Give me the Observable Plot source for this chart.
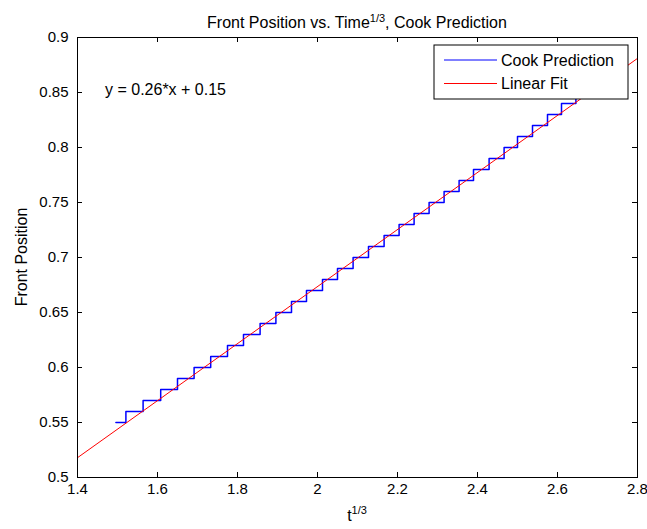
<!DOCTYPE html>
<html><head><meta charset="utf-8">
<script src="https://cdn.jsdelivr.net/npm/d3@7"></script>
<script src="https://cdn.jsdelivr.net/npm/@observablehq/plot@0.6"></script>
<style>body{margin:0;background:#fff} svg{display:block}</style>
</head><body><div id="chart"></div>
<script>
// Cook Prediction staircase: x where each level begins
const stepX = [1.496, 1.521, 1.564, 1.608, 1.650, 1.6915, 1.733, 1.775, 1.815, 1.8565, 1.896,
               1.935, 1.9725, 2.0125, 2.050, 2.089, 2.1275, 2.1665, 2.204, 2.2415, 2.279,
               2.3165, 2.354, 2.390, 2.429, 2.4665, 2.500, 2.5375, 2.575, 2.610, 2.646, 2.680];
const stepY = [0.55, 0.56, 0.57, 0.58, 0.59, 0.60, 0.61, 0.62, 0.63, 0.64, 0.65,
               0.66, 0.67, 0.68, 0.69, 0.70, 0.71, 0.72, 0.73, 0.74, 0.75,
               0.76, 0.77, 0.78, 0.79, 0.80, 0.81, 0.82, 0.83, 0.84, 0.85, 0.85];
// Linear fit line endpoints
const fitX = [1.4, 2.8];
const fitY = [0.518, 0.881];
const xTicks = [1.4, 1.6, 1.8, 2, 2.2, 2.4, 2.6, 2.8];
const yTicks = [0.5, 0.55, 0.6, 0.65, 0.7, 0.75, 0.8, 0.85, 0.9];
const seriesNames = ["Cook Prediction", "Linear Fit"];
const seriesColors = ["#0000ff", "#ff0000"];
const equationText = "y = 0.26*x + 0.15";
const equationPos = [1.47, 0.852];
const titleParts = ["Front Position vs. Time", "1/3", ", Cook Prediction"];
const xLabelParts = ["t", "1/3"];
const yLabelText = "Front Position";

const W = 647, H = 529, mL = 77, mR = 10, mT = 37, mB = 52;
const font = '"Liberation Sans", Arial, Helvetica, sans-serif';
const fmt = d => String(+(+d).toFixed(2));
const steps = stepX.map((x, i) => ({x, y: stepY[i]}));
const fit = fitX.map((x, i) => ({x, y: fitY[i]}));
const innerW = W - mL - mR, innerH = H - mT - mB, tk = 5;

const plot = Plot.plot({
  width: W, height: H,
  marginLeft: mL, marginRight: mR, marginTop: mT, marginBottom: mB,
  style: {fontFamily: font, fontSize: "15px", color: "#000", background: "#fff"},
  x: {domain: [1.4, 2.8]},
  y: {domain: [0.5, 0.9]},
  marks: [
    Plot.line(steps, {x: "x", y: "y", curve: "step-after", stroke: seriesColors[0], strokeWidth: 1.5}),
    Plot.line(fit, {x: "x", y: "y", stroke: seriesColors[1], strokeWidth: 1}),
    Plot.tickX(xTicks, {x: d => d, insetTop: innerH - tk, stroke: "#000"}),
    Plot.tickX(xTicks, {x: d => d, insetBottom: innerH - tk, stroke: "#000"}),
    Plot.tickY(yTicks, {y: d => d, insetLeft: innerW - tk, stroke: "#000"}),
    Plot.tickY(yTicks, {y: d => d, insetRight: innerW - tk, stroke: "#000"}),
    Plot.axisX(xTicks, {tickSize: 0, tickPadding: 6, tickFormat: fmt, label: null}),
    Plot.axisY(yTicks, {tickSize: 0, tickPadding: 9, tickFormat: fmt, label: null}),
    Plot.frame({stroke: "#000"})
  ]
});
document.getElementById("chart").appendChild(plot);
const svg = d3.select(plot);
const sx = plot.scale("x"), sy = plot.scale("y");

// Title
const t = svg.append("text").attr("x", mL + innerW / 2).attr("y", 28)
  .attr("text-anchor", "middle").style("font-family", font).style("font-size", "16px").attr("fill", "#000");
t.append("tspan").text(titleParts[0]);
t.append("tspan").attr("dy", -6).style("font-size", "11px").text(titleParts[1]);
t.append("tspan").attr("dy", 6).text(titleParts[2]);

// X label
const xl = svg.append("text").attr("x", mL + innerW / 2).attr("y", H - 8)
  .attr("text-anchor", "middle").style("font-family", font).style("font-size", "16px").attr("fill", "#000");
xl.append("tspan").text(xLabelParts[0]);
xl.append("tspan").attr("dy", -7).style("font-size", "11px").text(xLabelParts[1]);

// Y label
svg.append("text").attr("transform", `translate(21,${mT + innerH / 2}) rotate(-90)`)
  .attr("text-anchor", "middle").attr("dy", "0.35em")
  .style("font-family", font).style("font-size", "16px").attr("fill", "#000").text(yLabelText);

// Equation
svg.append("text").attr("x", sx.apply(equationPos[0])).attr("y", sy.apply(equationPos[1]))
  .attr("text-anchor", "start").attr("dy", "0.35em")
  .style("font-family", font).style("font-size", "16px").attr("fill", "#000")
  .text(equationText);

// Legend
const lg = svg.append("g");
const lx = 434, ly = 45, lw = 194, lh = 54;
lg.append("rect").attr("x", lx).attr("y", ly).attr("width", lw).attr("height", lh)
  .attr("fill", "#fff").attr("stroke", "#000");
seriesNames.forEach((name, i) => {
  const yy = ly + 15 + i * 23.5;
  lg.append("line").attr("x1", lx + 10).attr("x2", lx + 63).attr("y1", yy).attr("y2", yy)
    .attr("stroke", seriesColors[i]).attr("stroke-width", 1);
  lg.append("text").attr("x", lx + 67).attr("y", yy).attr("dy", "0.35em")
    .attr("text-anchor", "start")
    .style("font-family", font).style("font-size", "16px").attr("fill", "#000").text(name);
});
</script></body></html>
